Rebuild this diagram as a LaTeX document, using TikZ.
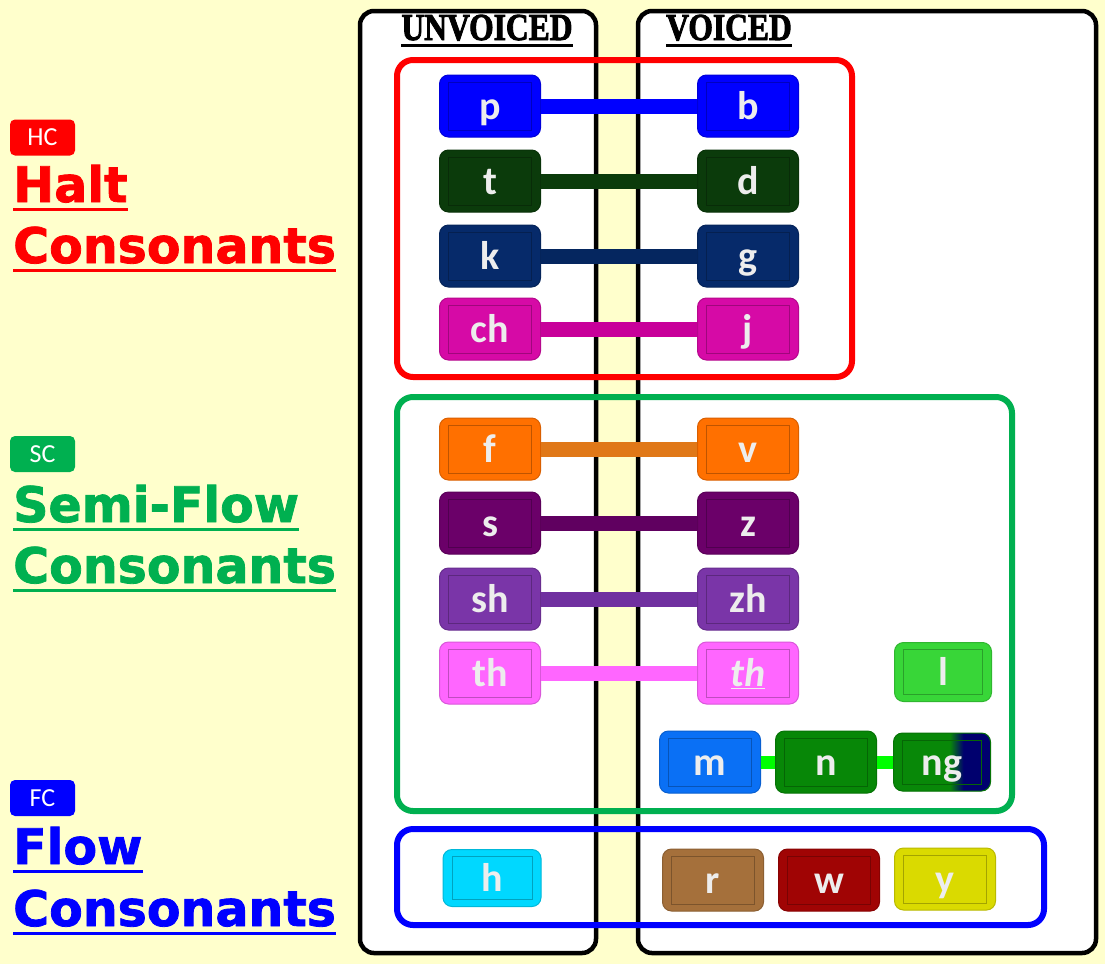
\documentclass[tikz,border=0pt]{standalone}
\usepackage{fontspec}
\setmainfont{Carlito}
\newfontfamily\headfont[BoldFeatures={FakeBold=2.5}]{Liberation Serif}
\newfontfamily\labfont[BoldFeatures={FakeBold=1.6}]{DejaVu Sans}
\usetikzlibrary{positioning}

\definecolor{paper}{HTML}{FFFFCC}
\definecolor{keytext}{HTML}{EDEDED}
\definecolor{hcred}{HTML}{FF0000}
\definecolor{scgreen}{HTML}{00B050}
\definecolor{fcblue}{HTML}{0000FF}
\definecolor{kp}{HTML}{0000FF}
\definecolor{kt}{HTML}{0B3B0B}
\definecolor{kk}{HTML}{062A6A}
\definecolor{kch}{HTML}{D60AA6}
\definecolor{bch}{HTML}{C8009A}
\definecolor{kf}{HTML}{FF7000}
\definecolor{bf}{HTML}{E07818}
\definecolor{ks}{HTML}{6B0069}
\definecolor{bs}{HTML}{600060}
\definecolor{ksh}{HTML}{7A35A8}
\definecolor{bsh}{HTML}{7030A0}
\definecolor{kth}{HTML}{FF66FF}
\definecolor{kl}{HTML}{38D638}
\definecolor{km}{HTML}{0A70F5}
\definecolor{kn}{HTML}{078707}
\definecolor{ngL}{HTML}{088808}
\definecolor{ngR}{HTML}{00006E}
\definecolor{kh}{HTML}{00D8FF}
\definecolor{kr}{HTML}{A5703B}
\definecolor{kw}{HTML}{A00404}
\definecolor{ky}{HTML}{DADA00}
\definecolor{lime}{HTML}{00FF00}

\pgfdeclarehorizontalshading{ngshade}{100bp}{color(0bp)=(ngL); color(54bp)=(ngL);
  color(61bp)=(ngR); color(100bp)=(ngR)}

\begin{document}
\begin{tikzpicture}[x=1pt,y=-1pt,
    cons/.style={rectangle,rounded corners=9pt,minimum width=101pt,
      minimum height=62pt,fill=#1,draw=#1!85!black,line width=1pt,
      text=keytext,font=\bfseries\fontsize{40}{40}\selectfont,
      text height=28pt,text depth=2pt,inner sep=0pt,
      path picture={\draw[#1!75!black,line width=1pt,sharp corners]
        ([shift={(9pt,7pt)}]path picture bounding box.south west) rectangle
        ([shift={(-9pt,-7pt)}]path picture bounding box.north east);}},
    link/.style={draw=#1,line width=15pt},
    panel/.style={draw=black,fill=white,line width=4.5pt,rounded corners=14pt},
    frame/.style={draw=#1,line width=6pt,rounded corners=16pt},
    head/.style={font=\headfont\bfseries\fontsize{38}{38}\selectfont,
      inner sep=0pt,xscale=0.83,transform shape},
    badge/.style={fill=#1,rounded corners=5pt,minimum width=65pt,
      minimum height=36pt,inner sep=0pt,text=white,
      font=\fontsize{26}{26}\selectfont},
    lab/.style={text=#1,inner sep=0pt,
      font=\labfont\bfseries\fontsize{49}{49}\selectfont},
    uline/.style={draw=#1,line width=3pt}]

    % sheet and the two columns
    \fill[paper] (0,0) rectangle (1105,964);
    \draw[panel] (360,11) rectangle (596,953);
    \draw[panel] (638,11) rectangle (1096,953);

    % group frames
    \draw[frame=hcred] (397,60) rectangle (852,377);
    \draw[frame=scgreen] (397,397) rectangle (1012,811);
    \draw[frame=fcblue] (397,829) rectangle (1044,925);

    % column heads
    \node[head,anchor=base] (unv) at (487,40) {UNVOICED};
    \node[head,anchor=base] (voi) at (729,40) {VOICED};
    \draw[uline=black,line width=2.5pt] ([yshift=-5.5pt]unv.base west) -- ([yshift=-5.5pt]unv.base east);
    \draw[uline=black,line width=2.5pt] ([yshift=-5.5pt]voi.base west) -- ([yshift=-5.5pt]voi.base east);

    % group names
    \node[badge=hcred] (hc) at (42.5,137.5) {HC};
    \node[lab=hcred,anchor=base west] (halt) at (13,202) {Halt};
    \node[lab=hcred,anchor=base west] (hcon) at (13,263) {Consonants};
    \draw[uline=hcred] ([yshift=-7pt]halt.base west) -- ([yshift=-7pt]halt.base east);
    \draw[uline=hcred] ([yshift=-7pt]hcon.base west) -- ([yshift=-7pt]hcon.base east);

    \node[badge=scgreen] (sc) at (42.5,454) {SC};
    \node[lab=scgreen,anchor=base west] (semi) at (13,522) {Semi-Flow};
    \node[lab=scgreen,anchor=base west] (scon) at (13,583) {Consonants};
    \draw[uline=scgreen] ([yshift=-7pt]semi.base west) -- ([yshift=-7pt]semi.base east);
    \draw[uline=scgreen] ([yshift=-7pt]scon.base west) -- ([yshift=-7pt]scon.base east);

    \node[badge=fcblue] (fc) at (42.5,798) {FC};
    \node[lab=fcblue,anchor=base west] (flow) at (13,864) {Flow};
    \node[lab=fcblue,anchor=base west] (fcon) at (13,926) {Consonants};
    \draw[uline=fcblue] ([yshift=-7pt]flow.base west) -- ([yshift=-7pt]flow.base east);
    \draw[uline=fcblue] ([yshift=-7pt]fcon.base west) -- ([yshift=-7pt]fcon.base east);

    % halt pairs
    \node[cons=kp] (p) at (490,106) {p};
    \node[cons=kp] (b) at (748,106) {b};
    \node[cons=kt] (t) at (490,181) {t};
    \node[cons=kt] (d) at (748,181) {d};
    \node[cons=kk] (k) at (490,256) {k};
    \node[cons=kk] (g) at (748,256) {g};
    \node[cons=kch] (ch) at (490,329) {ch};
    \node[cons=kch] (j) at (748,329) {j};

    % semi-flow pairs
    \node[cons=kf] (f) at (490,449) {f};
    \node[cons=kf] (v) at (748,449) {v};
    \node[cons=ks] (s) at (490,523) {s};
    \node[cons=ks] (z) at (748,523) {z};
    \node[cons=ksh] (sh) at (490,599) {sh};
    \node[cons=ksh] (zh) at (748,599) {zh};
    \node[cons=kth] (th) at (490,673) {th};
    \node[cons=kth] (thv) at (748,673) {\underline{\textit{th}}};
    \node[cons=kl,minimum width=97pt,minimum height=59pt] (l) at (943,672) {l};
    \node[cons=km] (m) at (710,762) {m};
    \node[cons=kn] (n) at (826,762) {n};
    \node[cons=ngL,shading=ngshade,minimum width=97pt,minimum height=58pt] (ng) at (942,762) {ng};

    % flow
    \node[cons=kh,minimum width=98pt,minimum height=57pt] (h) at (492,878) {h};
    \node[cons=kr] (r) at (713,880) {r};
    \node[cons=kw] (w) at (829,880) {w};
    \node[cons=ky] (y) at (945,879) {y};

    % voicing links
    \draw[link=kp] (p) -- (b);
    \draw[link=kt] (t) -- (d);
    \draw[link=kk!90!black] (k) -- (g);
    \draw[link=bch] (ch) -- (j);
    \draw[link=bf] (f) -- (v);
    \draw[link=bs] (s) -- (z);
    \draw[link=bsh] (sh) -- (zh);
    \draw[link=kth] (th) -- (thv);
    \draw[link=lime,line width=13pt] (m) -- (n);
    \draw[link=lime,line width=13pt] (n) -- (ng);
\end{tikzpicture}
\end{document}
